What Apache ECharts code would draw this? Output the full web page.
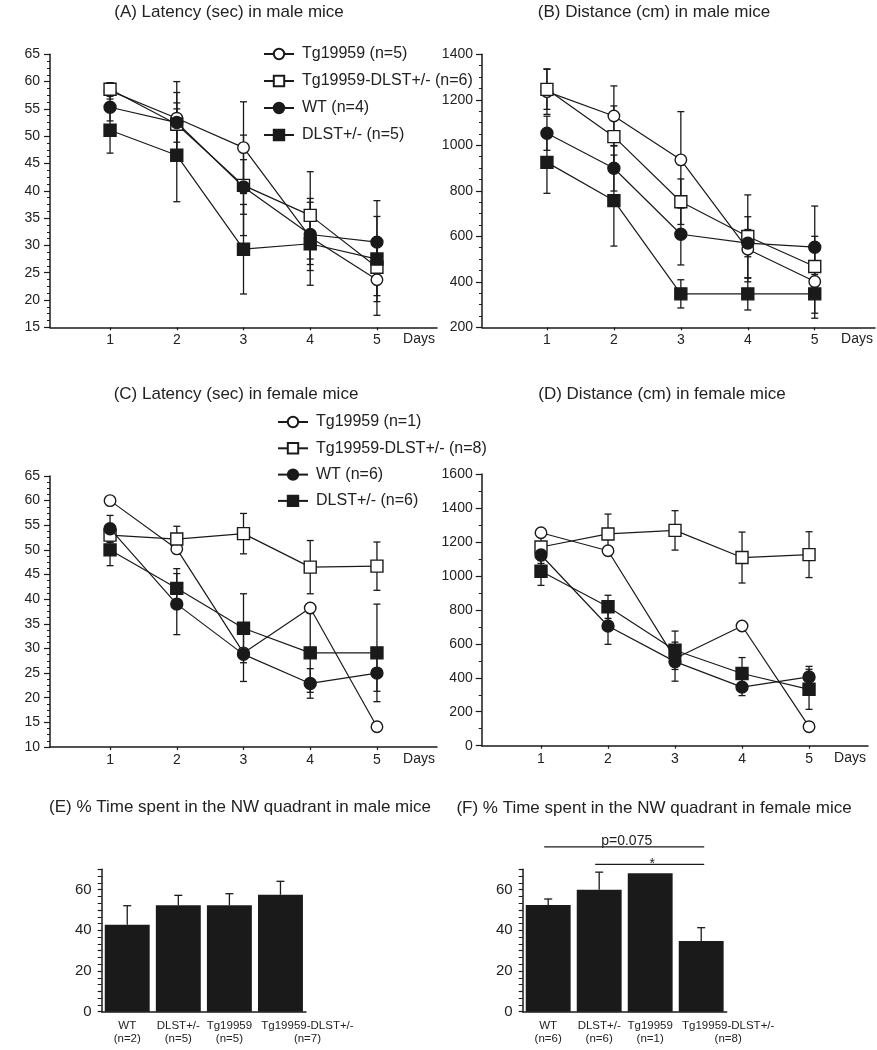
<!DOCTYPE html>
<html>
<head>
<meta charset="utf-8">
<script src="https://cdn.jsdelivr.net/npm/echarts@6/dist/echarts.min.js"></script>
<style>
  html, body { margin: 0; padding: 0; background: #fff; }
  #chart { width: 877px; height: 1050px; }
</style>
</head>
<body>
<div id="chart"></div>
<script>
// ---------------- DATA ----------------
const days = [1, 2, 3, 4, 5];
const dayTicks = [1, 2, 3, 4, 5];

const maleNames = ['Tg19959 (n=5)', 'Tg19959-DLST+/- (n=6)', 'WT (n=4)', 'DLST+/- (n=5)'];
const femaleNames = ['Tg19959 (n=1)', 'Tg19959-DLST+/- (n=8)', 'WT (n=6)', 'DLST+/- (n=6)'];

// (A) Latency (sec) in male mice
const A_tg = [58.3, 53.3, 47.9, 31.5, 23.7];
const A_tgErr = [1.5, 6.7, 8.4, 5.0, 6.5];
const A_tgDlst = [58.6, 52.2, 41.0, 35.5, 26.0];
const A_tgDlstErr = [1.2, 5.8, 9.2, 8.0, 5.2];
const A_wt = [55.3, 52.5, 40.7, 32.0, 30.6];
const A_wtErr = [2.5, 3.6, 5.0, 6.6, 7.6];
const A_dlst = [51.1, 46.5, 29.3, 30.3, 27.5];
const A_dlstErr = [4.2, 8.5, 8.2, 7.6, 7.8];

// (B) Distance (cm) in male mice
const B_tg = [1236, 1129, 936, 543, 401];
const B_tgErr = [100, 132, 212, 143, 161];
const B_tgDlst = [1246, 1038, 752, 599, 467];
const B_tgDlstErr = [88, 135, 100, 183, 133];
const B_wt = [1053, 899, 609, 570, 552];
const B_wtErr = [75, 100, 135, 60, 181];
const B_dlst = [925, 757, 347, 347, 347];
const B_dlstErr = [136, 200, 62, 71, 85];

// (C) Latency (sec) in female mice
const C_tg = [60.0, 50.2, 29.1, 38.2, 14.1];
const C_tgErr = [0, 0, 0, 0, 0];
const C_tgDlst = [53.0, 52.2, 53.3, 46.5, 46.7];
const C_tgDlstErr = [1.5, 2.6, 4.1, 5.4, 4.9];
const C_wt = [54.3, 39.0, 28.8, 22.9, 25.0];
const C_wtErr = [2.7, 6.2, 5.5, 3.0, 3.7];
const C_dlst = [50.0, 42.2, 34.1, 29.1, 29.1];
const C_dlstErr = [3.2, 4.0, 7.0, 8.0, 9.9];

// (D) Distance (cm) in female mice
const D_tg = [1254, 1148, 514, 705, 112];
const D_tgErr = [0, 0, 0, 0, 0];
const D_tgDlst = [1170, 1247, 1268, 1108, 1125];
const D_tgDlstErr = [80, 117, 116, 150, 135];
const D_wt = [1123, 705, 495, 345, 405];
const D_wtErr = [50, 108, 115, 50, 62];
const D_dlst = [1027, 818, 562, 425, 332];
const D_dlstErr = [83, 68, 113, 94, 118];

// (E)/(F) % time in NW quadrant
const barCats = ['WT', 'DLST+/-', 'Tg19959', 'Tg19959-DLST+/-'];
const E_n = ['(n=2)', '(n=5)', '(n=5)', '(n=7)'];
const E_mean = [42.7, 52.3, 52.3, 57.5];
const E_err = [9.4, 4.9, 5.7, 6.6];
const F_n = ['(n=6)', '(n=6)', '(n=1)', '(n=8)'];
const F_mean = [52.4, 60.0, 68.1, 34.7];
const F_err = [3.0, 8.6, 0, 6.6];
// significance brackets: [fromCat, toCat, level]
const F_sig = [[0, 3, 81], [1, 3, 72.4]];
const F_sigText = ['p=0.075', '*'];

// ---------------- STYLE ----------------
const FONT = '"Liberation Sans", Arial, Helvetica, sans-serif';
const INK = '#1a1a1a';
const TXT = '#222';

const grids = [
  { left: 50, top: 54.3, width: 387, height: 273 },     // A
  { left: 482, top: 54.3, width: 393, height: 273 },    // B
  { left: 50, top: 476, width: 387, height: 271 },      // C
  { left: 481.7, top: 474, width: 386.3, height: 271.7 }, // D
  { left: 101.7, top: 869.3, width: 204.3, height: 142.4 }, // E
  { left: 522.7, top: 869.3, width: 204, height: 142.4 }    // F
];

function lineXAxis(gi, min, max) {
  return {
    type: 'value', gridIndex: gi, min: min, max: max,
    name: 'Days', nameLocation: 'end', nameGap: -2,
    nameTextStyle: { fontFamily: FONT, fontSize: 14, color: TXT, align: 'right', verticalAlign: 'top', padding: [5, 0, 0, 0] },
    axisLine: { onZero: false, lineStyle: { color: INK, width: 1.5 } },
    axisTick: { show: true, length: 3, customValues: dayTicks, lineStyle: { color: INK, width: 1.2 } },
    axisLabel: { customValues: dayTicks, margin: 6, fontFamily: FONT, fontSize: 14, color: TXT },
    splitLine: { show: false }
  };
}
function lineYAxis(gi, min, max, interval, minorSplit, margin) {
  return {
    type: 'value', gridIndex: gi, min: min, max: max, interval: interval,
    axisLine: { show: true, onZero: false, lineStyle: { color: INK, width: 1.5 } },
    axisTick: { show: true, length: 6, lineStyle: { color: INK, width: 1.2 } },
    minorTick: { show: true, splitNumber: minorSplit, length: 3, lineStyle: { color: INK, width: 1 } },
    axisLabel: { margin: margin, fontFamily: FONT, fontSize: 14, color: TXT, formatter: v => String(v) },
    splitLine: { show: false }, minorSplitLine: { show: false }
  };
}
function barXAxis(gi, nLabels, shiftLast) {
  return {
    type: 'category', gridIndex: gi,
    data: barCats.map((c, i) => {
      const item = { value: c + '\n' + nLabels[i] };
      if (i === barCats.length - 1) item.textStyle = { padding: [0, 0, 0, shiftLast] };
      return item;
    }),
    axisLine: { lineStyle: { color: INK, width: 1.5 } },
    axisTick: { alignWithLabel: true, length: 4, lineStyle: { color: INK, width: 1.2 } },
    axisLabel: { interval: 0, margin: 8, fontFamily: FONT, fontSize: 11.5, lineHeight: 13, color: TXT },
    splitLine: { show: false }
  };
}
function barYAxis(gi) {
  return {
    type: 'value', gridIndex: gi, min: 0, max: 70, interval: 10,
    axisLine: { show: true, lineStyle: { color: INK, width: 1.5 } },
    axisTick: { show: true, length: 4, lineStyle: { color: INK, width: 1.2 } },
    minorTick: { show: true, splitNumber: 3, length: 4, lineStyle: { color: INK, width: 1 } },
    axisLabel: {
      margin: 10, fontFamily: FONT, fontSize: 15, color: TXT,
      formatter: v => (v % 20 === 0 && v <= 60) ? String(v) : ''
    },
    splitLine: { show: false }, minorSplitLine: { show: false }
  };
}

function errRender(params, api) {
  const x = api.value(0), y = api.value(1), e = api.value(2);
  if (!e) return null;
  const top = api.coord([x, y + e]);
  const bot = api.coord([x, y - e]);
  const w = 3.5;
  const st = { stroke: INK, lineWidth: 1.3 };
  return {
    type: 'group', children: [
      { type: 'line', shape: { x1: top[0], y1: top[1], x2: bot[0], y2: bot[1] }, style: st },
      { type: 'line', shape: { x1: top[0] - w, y1: top[1], x2: top[0] + w, y2: top[1] }, style: st },
      { type: 'line', shape: { x1: bot[0] - w, y1: bot[1], x2: bot[0] + w, y2: bot[1] }, style: st }
    ]
  };
}
function barErrRender(params, api) {
  const x = api.value(0), y = api.value(1), e = api.value(2);
  if (!e) return null;
  const base = api.coord([x, y]);
  const top = api.coord([x, y + e]);
  const w = 4;
  const st = { stroke: INK, lineWidth: 1.3 };
  return {
    type: 'group', children: [
      { type: 'line', shape: { x1: base[0], y1: base[1], x2: top[0], y2: top[1] }, style: st },
      { type: 'line', shape: { x1: top[0] - w, y1: top[1], x2: top[0] + w, y2: top[1] }, style: st }
    ]
  };
}
function sigRender(params, api) {
  const a = api.value(0), b = api.value(1), lvl = api.value(2);
  const p1 = api.coord([a, lvl]);
  const p2 = api.coord([b, lvl]);
  const txt = F_sigText[params.dataIndex];
  const isStar = txt === '*';
  return {
    type: 'group', children: [
      { type: 'line', shape: { x1: p1[0] - 4, y1: p1[1], x2: p2[0] + 3, y2: p2[1] }, style: { stroke: INK, lineWidth: 1.3 } },
      { type: 'text', x: (p1[0] + p2[0]) / 2 + 2, y: p1[1] + (isStar ? 7 : 1),
        style: { text: txt, fontFamily: FONT, fontSize: 14, fill: TXT, align: 'center', verticalAlign: 'bottom' } }
    ]
  };
}

const markerDefs = [
  { symbol: 'circle', fill: '#fff', size: 11.5 },
  { symbol: 'rect', fill: '#fff', size: 12 },
  { symbol: 'circle', fill: INK, size: 12 },
  { symbol: 'rect', fill: INK, size: 12 }
];

function linePanelSeries(gi, names, vals, errs) {
  const out = [];
  vals.forEach((v, k) => {
    out.push({
      type: 'custom', xAxisIndex: gi, yAxisIndex: gi, renderItem: errRender,
      encode: { x: 0, y: 1 }, z: 2, silent: true,
      data: days.map((d, i) => [d, v[i], errs[k][i]])
    });
  });
  [3, 2, 0, 1].forEach(k => {
    const m = markerDefs[k];
    out.push({
      name: names[k], type: 'line', xAxisIndex: gi, yAxisIndex: gi,
      data: days.map((d, i) => [d, vals[k][i]]),
      symbol: m.symbol, symbolSize: m.size, showAllSymbol: true,
      lineStyle: { color: INK, width: 1.2 },
      itemStyle: { color: m.fill, borderColor: INK, borderWidth: 1.4 },
      z: 3 + k, silent: true
    });
  });
  return out;
}

function barPanelSeries(gi, means, errs) {
  return [
    {
      type: 'bar', xAxisIndex: gi, yAxisIndex: gi, data: means,
      barCategoryGap: '12%', itemStyle: { color: INK }, silent: true, z: 2
    },
    {
      type: 'custom', xAxisIndex: gi, yAxisIndex: gi, renderItem: barErrRender,
      encode: { x: 0, y: 1 }, z: 3, silent: true,
      data: means.map((m, i) => [i, m, errs[i]])
    }
  ];
}

function legendFor(names, left, top, gap) {
  return {
    data: [names[0], names[1], names[2], names[3]],
    orient: 'vertical', left: left, top: top, padding: 0,
    itemWidth: 30, itemHeight: 13, itemGap: gap,
    selectedMode: false,
    textStyle: { fontFamily: FONT, fontSize: 16, color: TXT, lineHeight: 18, padding: [0, 0, 0, 3] }
  };
}

const titleStyle = { fontFamily: FONT, fontSize: 17, fontWeight: 'normal', color: TXT };
function title(text, cx, top) {
  return { text: text, left: cx, top: top, textAlign: 'center', textStyle: titleStyle, padding: 0 };
}

const option = {
  animation: false,
  backgroundColor: '#fff',
  title: [
    title('(A) Latency (sec) in male mice', 229, 4),
    title('(B) Distance (cm) in male mice', 654, 4),
    title('(C) Latency (sec) in female mice', 236, 386),
    title('(D) Distance (cm) in female mice', 662, 386),
    title('(E) % Time spent in the NW quadrant in male mice', 240, 799),
    title('(F) % Time spent in the NW quadrant in female mice', 654, 800)
  ],
  legend: [
    legendFor(maleNames, 263, 45, 9),
    legendFor(femaleNames, 277, 413, 8.3)
  ],
  grid: grids.map(g => Object.assign({ containLabel: false }, g)),
  xAxis: [
    lineXAxis(0, 0.1, 5.9),
    lineXAxis(1, 0.03, 5.9),
    lineXAxis(2, 0.1, 5.9),
    lineXAxis(3, 0.115, 5.88),
    barXAxis(4, E_n, 54),
    barXAxis(5, F_n, 54)
  ],
  yAxis: [
    lineYAxis(0, 15, 65, 5, 4, 10),
    lineYAxis(1, 200, 1400, 200, 4, 9),
    lineYAxis(2, 10, 65, 5, 4, 10),
    lineYAxis(3, 0, 1600, 200, 2, 9),
    barYAxis(4),
    barYAxis(5)
  ],
  series: [].concat(
    linePanelSeries(0, maleNames, [A_tg, A_tgDlst, A_wt, A_dlst], [A_tgErr, A_tgDlstErr, A_wtErr, A_dlstErr]),
    linePanelSeries(1, maleNames, [B_tg, B_tgDlst, B_wt, B_dlst], [B_tgErr, B_tgDlstErr, B_wtErr, B_dlstErr]),
    linePanelSeries(2, femaleNames, [C_tg, C_tgDlst, C_wt, C_dlst], [C_tgErr, C_tgDlstErr, C_wtErr, C_dlstErr]),
    linePanelSeries(3, femaleNames, [D_tg, D_tgDlst, D_wt, D_dlst], [D_tgErr, D_tgDlstErr, D_wtErr, D_dlstErr]),
    barPanelSeries(4, E_mean, E_err),
    barPanelSeries(5, F_mean, F_err),
    [{
      type: 'custom', xAxisIndex: 5, yAxisIndex: 5, renderItem: sigRender,
      clip: false, silent: true, z: 4,
      encode: { x: 0, y: 2 },
      data: F_sig
    }]
  )
};

const chart = echarts.init(document.getElementById('chart'), null, { renderer: 'canvas' });
chart.setOption(option);
</script>
</body>
</html>
